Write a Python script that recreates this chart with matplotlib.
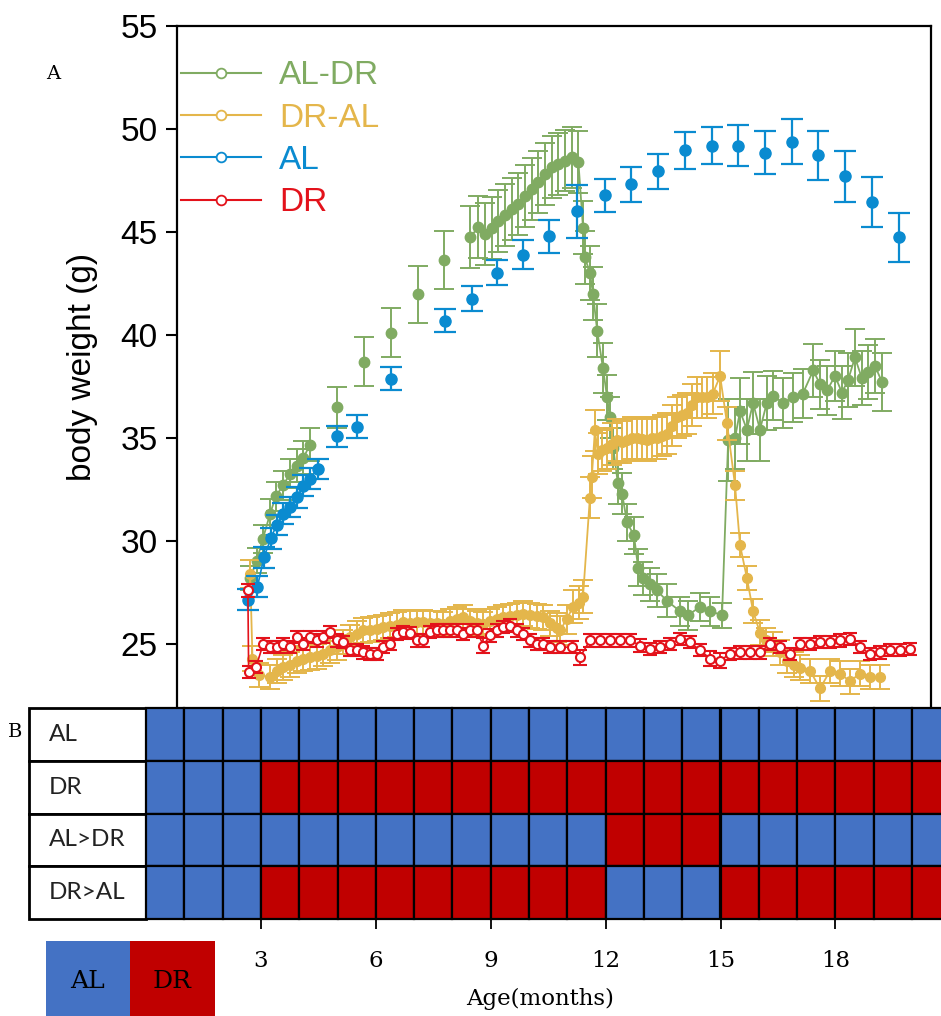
import matplotlib
matplotlib.use('Agg')
import numpy as np
import matplotlib.pyplot as plt
from matplotlib.patches import Rectangle
from matplotlib.lines import Line2D

plt.rcParams['font.family'] = ['Liberation Sans', 'DejaVu Sans']

# ---------------- data (x = age in months, y = body weight in g) ----------------
al_x = [2.66, 2.91, 3.08, 3.26, 3.41, 3.59, 3.76, 3.94, 4.11, 4.28, 4.48, 4.99, 5.51, 6.39,
        7.81, 8.51, 9.16, 9.84, 10.52, 11.25, 11.98, 12.66, 13.37, 14.07, 14.78, 15.46,
        16.16, 16.87, 17.55, 18.25, 18.96, 19.66]
al_y = [27.15, 27.79, 29.21, 30.13, 30.78, 31.32, 31.64, 32.12, 32.69, 33.02, 33.50, 35.07,
        35.55, 37.87, 40.69, 41.76, 43.02, 43.89, 44.77, 45.98, 46.76, 47.29, 47.92, 48.94,
        49.18, 49.18, 48.84, 49.37, 48.70, 47.68, 46.42, 44.72]
al_e = [0.5, 0.5, 0.5, 0.5, 0.5, 0.5, 0.5, 0.5, 0.5, 0.5, 0.5, 0.53, 0.57, 0.57, 0.55, 0.6,
        0.6, 0.7, 0.8, 1.3, 0.82, 0.83, 0.85, 0.89, 0.91, 1.0, 1.06, 1.08, 1.17, 1.22, 1.21, 1.2]

aldr_x = [2.72, 2.89, 3.05, 3.24, 3.39, 3.58, 3.76, 3.93, 4.11, 4.28,
          4.99, 5.69, 6.39, 7.09, 7.79, 8.46,
          8.68, 8.85, 9.03, 9.20, 9.37, 9.55, 9.72, 9.90, 10.07, 10.24, 10.42, 10.59, 10.77,
          10.94, 11.11, 11.29,
          11.41, 11.46, 11.59, 11.67, 11.78,
          11.93, 12.04, 12.11, 12.20, 12.32, 12.43,
          12.56, 12.74, 12.85, 12.98, 13.16, 13.34, 13.60, 13.94, 14.15, 14.46, 14.73, 15.04,
          15.20, 15.38, 15.51, 15.69, 15.85, 16.03, 16.21, 16.37, 16.63, 16.89, 17.15, 17.42,
          17.60, 17.78, 17.99, 18.17, 18.33, 18.51, 18.69, 18.85, 19.03, 19.22]
aldr_y = [28.2, 29.05, 30.1, 31.32, 32.17, 32.7, 33.26, 33.66, 34.03, 34.67,
          36.49, 38.7, 40.1, 41.96, 43.62, 44.73,
          45.22, 44.9, 45.2, 45.5, 45.8, 46.1, 46.35, 46.75, 47.08, 47.4, 47.8, 48.13, 48.3,
          48.45, 48.6, 48.37,
          45.2, 43.75, 43.0, 42.0, 40.2,
          38.4, 36.96, 35.99, 34.5, 32.8, 32.3,
          30.9, 30.27, 28.7, 28.2, 27.9, 27.6, 27.1, 26.6, 26.4, 26.8, 26.6, 26.4,
          34.9, 35.0, 36.3, 35.4, 36.7, 35.4, 36.7, 37.05, 36.7, 36.96, 37.15, 38.27,
          37.6, 37.3, 38.0, 37.2, 37.8, 38.9, 37.9, 38.2, 38.5, 37.7]
aldr_e = [0.6, 0.6, 0.7, 0.7, 0.7, 0.7, 0.7, 0.8, 0.8, 0.8,
          1.0, 1.2, 1.2, 1.4, 1.4, 1.5,
          1.5, 1.5, 1.5, 1.5, 1.5, 1.5, 1.5, 1.5, 1.5, 1.5, 1.5, 1.5, 1.5,
          1.5, 1.5, 1.5,
          1.3, 1.3, 1.3, 1.3, 1.3,
          1.2, 1.1, 1.0, 1.0, 1.0, 1.0,
          0.9, 0.9, 0.9, 0.8, 0.8, 0.8, 0.8, 0.7, 0.7, 0.7, 0.7, 0.6,
          2.0, 1.5, 1.6, 1.5, 1.5, 1.5, 1.3, 1.2, 1.2, 1.2, 1.2, 1.3,
          1.2, 1.2, 1.2, 1.3, 1.3, 1.4, 1.3, 1.3, 1.3, 1.4]

dral_x = [2.72, 2.78, 2.95, 3.24, 3.41, 3.59, 3.76, 3.93, 4.11, 4.28,
          4.46, 4.63, 4.80, 4.98, 5.15, 5.33, 5.50, 5.67, 5.85, 6.02,
          6.20, 6.37, 6.55, 6.72, 6.90, 7.07, 7.24, 7.42, 7.59, 7.76,
          7.94, 8.11, 8.28, 8.46, 8.63, 8.81, 8.98, 9.16, 9.33, 9.50,
          9.68, 9.85, 10.02, 10.20, 10.37, 10.55, 10.72, 10.81, 10.98, 11.15,
          11.30, 11.41, 11.59, 11.64, 11.72, 11.80, 11.90, 12.03, 12.17, 12.30,
          12.43, 12.56, 12.69, 12.82, 12.95, 13.08, 13.21, 13.34, 13.47, 13.60,
          13.73, 13.86, 13.99, 14.12, 14.26, 14.39, 14.52, 14.65, 14.80, 14.99,
          15.17, 15.38, 15.51, 15.69, 15.85, 16.03, 16.20, 16.37, 16.55, 16.74,
          16.91, 17.08, 17.34, 17.60, 17.86, 18.12, 18.38, 18.64, 18.90, 19.16]
dral_y = [28.4, 24.3, 23.5, 23.4, 23.7, 23.88, 24.0, 24.2, 24.3, 24.36,
          24.4, 24.53, 24.7, 24.85, 25.1, 25.34, 25.5, 25.66, 25.7, 25.75,
          25.82, 25.9, 25.95, 26.06, 26.0, 26.05, 26.06, 26.0, 26.0, 25.98,
          26.1, 26.2, 26.3, 26.1, 26.0, 25.98, 26.1, 26.2, 26.3, 26.35,
          26.4, 26.47, 26.4, 26.35, 26.3, 26.0, 25.8, 25.66, 26.2, 26.8,
          27.0, 27.3, 32.1, 33.1, 35.36, 34.24, 34.4, 34.5, 34.7, 34.9,
          34.8, 34.9, 35.0, 35.0, 34.95, 34.9, 35.0, 35.0, 35.1, 35.2,
          35.6, 36.0, 36.1, 36.2, 36.6, 36.96, 36.96, 36.96, 37.15, 38.0,
          35.7, 32.7, 29.8, 28.2, 26.6, 25.56, 25.2, 25.0, 24.6, 24.2,
          24.0, 23.86, 23.7, 22.85, 23.7, 23.57, 23.2, 23.57, 23.4, 23.4]
dral_e = [0.7, 0.6, 0.6, 0.6, 0.6, 0.6, 0.6, 0.6, 0.6, 0.6,
          0.6, 0.6, 0.6, 0.6, 0.6, 0.6, 0.6, 0.6, 0.6, 0.6,
          0.6, 0.6, 0.6, 0.6, 0.6, 0.6, 0.6, 0.6, 0.6, 0.6,
          0.6, 0.6, 0.6, 0.6, 0.6, 0.6, 0.6, 0.6, 0.6, 0.6,
          0.6, 0.6, 0.6, 0.6, 0.6, 0.6, 0.7, 0.7, 0.7, 0.8,
          0.8, 0.8, 1.0, 1.0, 1.0, 1.0, 1.0, 1.0, 1.0, 1.0,
          1.0, 1.0, 1.0, 1.0, 1.0, 1.0, 1.0, 1.0, 1.0, 1.0,
          1.0, 1.0, 1.0, 1.0, 1.0, 1.0, 1.0, 1.0, 1.0, 1.2,
          0.8, 0.7, 0.6, 0.6, 0.6, 0.6, 0.6, 0.6, 0.6, 0.6,
          0.6, 0.6, 0.6, 0.6, 0.6, 0.6, 0.6, 0.6, 0.6, 0.6]

dr_x = [2.66, 2.68, 2.87, 3.06, 3.23, 3.41, 3.58, 3.76, 3.93, 4.11,
        4.28, 4.46, 4.63, 4.80, 4.98, 5.15, 5.33, 5.50, 5.67, 5.85,
        6.02, 6.20, 6.37, 6.55, 6.72, 6.90, 7.07, 7.24, 7.42, 7.59,
        7.76, 7.94, 8.11, 8.28, 8.46, 8.63, 8.81, 8.98, 9.16, 9.33,
        9.50, 9.68, 9.85, 10.02, 10.20, 10.37, 10.55, 10.81, 11.11, 11.33,
        11.59, 11.85, 12.11, 12.38, 12.64, 12.90, 13.16, 13.42, 13.68, 13.94,
        14.20, 14.46, 14.73, 14.99, 15.25, 15.51, 15.77, 16.03, 16.29, 16.55,
        16.81, 17.08, 17.34, 17.60, 17.86, 18.12, 18.38, 18.64, 18.90, 19.16,
        19.43, 19.69, 19.95]
dr_y = [27.6, 23.64, 23.88, 25.0, 24.85, 24.85, 25.0, 24.85, 25.34, 25.0,
        25.34, 25.18, 25.34, 25.58, 25.18, 25.1, 24.7, 24.7, 24.6, 24.53,
        24.53, 24.85, 25.0, 25.5, 25.58, 25.55, 25.18, 25.18, 25.58, 25.66,
        25.66, 25.66, 25.66, 25.5, 25.66, 25.66, 24.93, 25.42, 25.66, 25.82,
        25.9, 25.66, 25.5, 25.18, 25.0, 25.0, 24.85, 24.85, 24.85, 24.36,
        25.18, 25.18, 25.18, 25.18, 25.18, 24.93, 24.77, 24.85, 25.0, 25.26,
        25.1, 24.7, 24.3, 24.2, 24.53, 24.6, 24.6, 24.6, 25.0, 24.85,
        24.53, 25.0, 25.0, 25.1, 25.1, 25.18, 25.26, 24.85, 24.53, 24.6,
        24.7, 24.7, 24.77]
dr_e = [0.3, 0.3, 0.3, 0.3, 0.3, 0.3, 0.3, 0.3, 0.3, 0.3,
        0.3, 0.3, 0.3, 0.3, 0.3, 0.3, 0.3, 0.3, 0.3, 0.3,
        0.3, 0.3, 0.3, 0.3, 0.3, 0.3, 0.3, 0.3, 0.3, 0.3,
        0.3, 0.3, 0.3, 0.3, 0.3, 0.3, 0.35, 0.3, 0.3, 0.3,
        0.3, 0.3, 0.3, 0.3, 0.3, 0.3, 0.3, 0.3, 0.3, 0.35,
        0.3, 0.3, 0.3, 0.3, 0.3, 0.3, 0.3, 0.3, 0.3, 0.3,
        0.3, 0.3, 0.35, 0.35, 0.3, 0.3, 0.3, 0.3, 0.3, 0.3,
        0.3, 0.3, 0.3, 0.3, 0.3, 0.3, 0.3, 0.3, 0.3, 0.3,
        0.3, 0.3, 0.3]

series_labels = ['AL-DR', 'DR-AL', 'AL', 'DR']
y_ticks = [25, 30, 35, 40, 45, 50, 55]

# diet schedule (one cell per month)
schedule_rows = ['AL', 'DR', 'AL>DR', 'DR>AL']
sched_AL = ['AL'] * 21
sched_DR = ['AL'] * 3 + ['DR'] * 18
sched_ALDR = ['AL'] * 12 + ['DR'] * 3 + ['AL'] * 6
sched_DRAL = ['AL'] * 3 + ['DR'] * 9 + ['AL'] * 3 + ['DR'] * 6
age_ticks = [3, 6, 9, 12, 15, 18]

# ---------------- styling ----------------
C_GREEN = '#80ab62'
C_YELLOW = '#e4b64b'
C_BLUE = '#0a8bd0'
C_RED = '#e3121b'
T_BLUE = '#4472C4'
T_RED = '#C00000'

W, H = 941, 1016
fig = plt.figure(figsize=(W / 100, H / 100), dpi=100)


def fx(px):
    return px / W


def fy(py):
    return 1 - py / H


def broken(x, y, gap=0.45):
    """Connect only consecutive (densely sampled) measurements."""
    xs, ys = [x[0]], [y[0]]
    for i in range(1, len(x)):
        if x[i] - x[i - 1] > gap:
            xs.append(np.nan)
            ys.append(np.nan)
        xs.append(x[i])
        ys.append(y[i])
    return xs, ys


# ---------------- panel A ----------------
ax = fig.add_axes([fx(177), fy(708), fx(931) - fx(177), fy(25.5) - fy(708)])
ax.set_xlim((177 - 146) / 38.3, (931 - 146) / 38.3)
ax.set_ylim(55 - (708 - 25.5) / 20.62, 55)

ax.errorbar(aldr_x, aldr_y, yerr=aldr_e, color=C_GREEN, marker='o', ms=7.5, ls='none',
            mfc=C_GREEN, mec=C_GREEN, elinewidth=1.4, capsize=7, capthick=1.4, zorder=2)
ax.plot(*broken(aldr_x, aldr_y), color=C_GREEN, lw=1.3, zorder=2)
ax.errorbar(dral_x, dral_y, yerr=dral_e, color=C_YELLOW, marker='o', ms=7,
            mfc=C_YELLOW, mec=C_YELLOW, lw=1.3, elinewidth=1.4, capsize=7,
            capthick=1.4, zorder=3)
ax.plot(*broken(al_x, al_y), color=C_BLUE, lw=1.2, zorder=4)
ax.errorbar(al_x, al_y, yerr=al_e, color=C_BLUE, marker='o', ms=8, ls='none',
            mfc=C_BLUE, mec=C_BLUE, elinewidth=1.6, capsize=8, capthick=1.6, zorder=4)
ax.errorbar(dr_x, dr_y, yerr=dr_e, color=C_RED, marker='o', ms=6.5,
            mfc='white', mec=C_RED, mew=1.5, lw=1.2, elinewidth=1.3, capsize=5,
            capthick=1.3, zorder=5)

ax.set_yticks(y_ticks)
ax.tick_params(axis='y', direction='out', length=8, width=1.5, pad=6, labelsize=24)
ax.set_xticks([])
ax.spines['bottom'].set_visible(False)
for s in ['left', 'top', 'right']:
    ax.spines[s].set_linewidth(1.6)
ax.set_ylabel('body weight (g)', fontsize=24, labelpad=16)

handles = [Line2D([], [], color=c, lw=1.5, marker='o', ms=7, mfc='white', mec=c, mew=1.3)
           for c in [C_GREEN, C_YELLOW, C_BLUE, C_RED]]
ax.legend(handles, series_labels, loc='upper left', bbox_to_anchor=(0.005, 0.949),
          frameon=False, fontsize=24, handlelength=2.4, handletextpad=0.55,
          labelspacing=0.34, borderpad=0, borderaxespad=0, labelcolor='linecolor')

# ---------------- panel B ----------------
tax = fig.add_axes([fx(29), fy(919), fx(941) - fx(29), fy(708) - fy(919)])
tax.set_zorder(5)
tax.set_xlim((29 - 146) / 38.3, (941 - 146) / 38.3)
tax.set_ylim(0, 4)
tax.patch.set_alpha(0)
diet_color = {'AL': T_BLUE, 'DR': T_RED}
for i, (name, sched) in enumerate(zip(schedule_rows, [sched_AL, sched_DR, sched_ALDR, sched_DRAL])):
    yb = 3 - i
    tax.add_patch(Rectangle(((29 - 146) / 38.3, yb), (146 - 29) / 38.3, 1, facecolor='white',
                            edgecolor='black', lw=2.0, clip_on=False))
    tax.text((49 - 146) / 38.3, yb + 0.5, name, ha='left', va='center', fontsize=17.5,
             family=['Lato', 'DejaVu Sans'], color='#222222')
    for m, d in enumerate(sched):
        tax.add_patch(Rectangle((m, yb), 1, 1, facecolor=diet_color[d], edgecolor='black',
                                lw=1.6, clip_on=False))
for s in tax.spines.values():
    s.set_visible(False)
tax.set_yticks([])
tax.set_xticks(age_ticks)
tax.set_xticklabels([str(t) for t in age_ticks], family='DejaVu Serif')
tax.tick_params(axis='x', direction='out', length=7, width=1.3, pad=15, labelsize=16.5)
tax.set_xlabel('Age(months)', fontsize=16.5, family='DejaVu Serif')
tax.xaxis.set_label_coords((540 - 29) / 912, (919 - 988) / 211)

# diet colour key
fig.add_artist(Rectangle((fx(46), 0), fx(130) - fx(46), fy(941), transform=fig.transFigure,
                         facecolor=T_BLUE, edgecolor='none'))
fig.add_artist(Rectangle((fx(130), 0), fx(215) - fx(130), fy(941), transform=fig.transFigure,
                         facecolor=T_RED, edgecolor='none'))
fig.text(fx(88), fy(982), 'AL', ha='center', va='center', fontsize=18, family='DejaVu Serif')
fig.text(fx(172), fy(982), 'DR', ha='center', va='center', fontsize=18, family='DejaVu Serif')

fig.text(fx(53), fy(74), 'A', ha='center', va='center', fontsize=14, family='DejaVu Serif')
fig.text(fx(15.5), fy(732), 'B', ha='center', va='center', fontsize=14, family='DejaVu Serif')

fig.savefig('out.png', dpi=100)
